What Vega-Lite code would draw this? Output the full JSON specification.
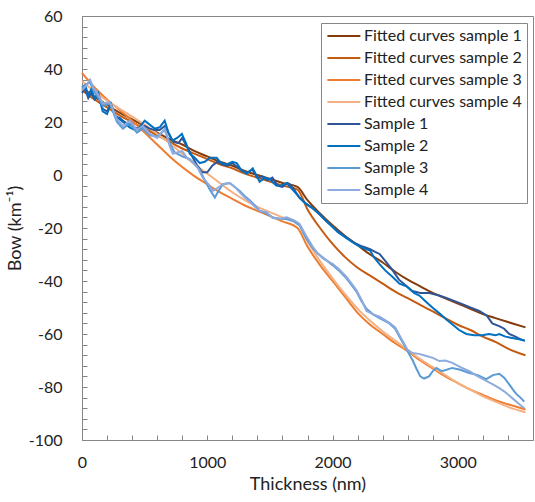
{
  "$schema": "https://vega.github.io/schema/vega-lite/v6.json",
  "width": 451,
  "height": 424,
  "autosize": {"type": "none"},
  "padding": {"left": 82, "top": 16, "right": 2, "bottom": 62},
  "background": "white",
  "config": {
    "font": "Lato",
    "view": {"stroke": "#868686", "strokeWidth": 1},
    "axis": {
      "grid": false,
      "domainColor": "#868686",
      "tickColor": "#868686",
      "tickSize": -5,
      "labelFont": "Lato",
      "labelFontSize": 16,
      "labelColor": "#222222",
      "titleFont": "Lato",
      "titleFontSize": 18,
      "titleFontWeight": "normal",
      "titleColor": "#222222"
    }
  },
  "datasets": {
    "fitted": [
      {"s": "Fitted curves sample 1", "x": 0, "y": 33}, {"s": "Fitted curves sample 1", "x": 100, "y": 29.5}, {"s": "Fitted curves sample 1", "x": 200, "y": 26.5}, {"s": "Fitted curves sample 1", "x": 300, "y": 23.5}, {"s": "Fitted curves sample 1", "x": 400, "y": 21}, {"s": "Fitted curves sample 1", "x": 500, "y": 18.5}, {"s": "Fitted curves sample 1", "x": 600, "y": 16}, {"s": "Fitted curves sample 1", "x": 700, "y": 13.5}, {"s": "Fitted curves sample 1", "x": 800, "y": 11.5}, {"s": "Fitted curves sample 1", "x": 900, "y": 9}, {"s": "Fitted curves sample 1", "x": 1000, "y": 7}, {"s": "Fitted curves sample 1", "x": 1100, "y": 5}, {"s": "Fitted curves sample 1", "x": 1200, "y": 3.5}, {"s": "Fitted curves sample 1", "x": 1300, "y": 1.5}, {"s": "Fitted curves sample 1", "x": 1400, "y": 0}, {"s": "Fitted curves sample 1", "x": 1500, "y": -1.5}, {"s": "Fitted curves sample 1", "x": 1600, "y": -3}, {"s": "Fitted curves sample 1", "x": 1720, "y": -4.5}, {"s": "Fitted curves sample 1", "x": 1800, "y": -9.5}, {"s": "Fitted curves sample 1", "x": 1900, "y": -14.5}, {"s": "Fitted curves sample 1", "x": 2000, "y": -19}, {"s": "Fitted curves sample 1", "x": 2100, "y": -23}, {"s": "Fitted curves sample 1", "x": 2200, "y": -26.5}, {"s": "Fitted curves sample 1", "x": 2300, "y": -30}, {"s": "Fitted curves sample 1", "x": 2400, "y": -33}, {"s": "Fitted curves sample 1", "x": 2500, "y": -36.5}, {"s": "Fitted curves sample 1", "x": 2600, "y": -39.5}, {"s": "Fitted curves sample 1", "x": 2700, "y": -42}, {"s": "Fitted curves sample 1", "x": 2800, "y": -44.5}, {"s": "Fitted curves sample 1", "x": 2900, "y": -46.5}, {"s": "Fitted curves sample 1", "x": 3000, "y": -48.5}, {"s": "Fitted curves sample 1", "x": 3100, "y": -50.5}, {"s": "Fitted curves sample 1", "x": 3200, "y": -52.5}, {"s": "Fitted curves sample 1", "x": 3300, "y": -54}, {"s": "Fitted curves sample 1", "x": 3400, "y": -55.5}, {"s": "Fitted curves sample 1", "x": 3540, "y": -57.5},
      {"s": "Fitted curves sample 2", "x": 0, "y": 32}, {"s": "Fitted curves sample 2", "x": 100, "y": 28.5}, {"s": "Fitted curves sample 2", "x": 200, "y": 25.5}, {"s": "Fitted curves sample 2", "x": 300, "y": 22.5}, {"s": "Fitted curves sample 2", "x": 400, "y": 20}, {"s": "Fitted curves sample 2", "x": 500, "y": 17.5}, {"s": "Fitted curves sample 2", "x": 600, "y": 15}, {"s": "Fitted curves sample 2", "x": 700, "y": 12.5}, {"s": "Fitted curves sample 2", "x": 800, "y": 10}, {"s": "Fitted curves sample 2", "x": 900, "y": 8}, {"s": "Fitted curves sample 2", "x": 1000, "y": 6}, {"s": "Fitted curves sample 2", "x": 1100, "y": 4}, {"s": "Fitted curves sample 2", "x": 1200, "y": 2.5}, {"s": "Fitted curves sample 2", "x": 1300, "y": 0.5}, {"s": "Fitted curves sample 2", "x": 1400, "y": -1}, {"s": "Fitted curves sample 2", "x": 1500, "y": -2.5}, {"s": "Fitted curves sample 2", "x": 1600, "y": -4}, {"s": "Fitted curves sample 2", "x": 1720, "y": -5.5}, {"s": "Fitted curves sample 2", "x": 1800, "y": -13}, {"s": "Fitted curves sample 2", "x": 1900, "y": -20}, {"s": "Fitted curves sample 2", "x": 2000, "y": -26}, {"s": "Fitted curves sample 2", "x": 2100, "y": -31}, {"s": "Fitted curves sample 2", "x": 2200, "y": -35}, {"s": "Fitted curves sample 2", "x": 2300, "y": -38}, {"s": "Fitted curves sample 2", "x": 2400, "y": -41}, {"s": "Fitted curves sample 2", "x": 2500, "y": -44}, {"s": "Fitted curves sample 2", "x": 2600, "y": -46.5}, {"s": "Fitted curves sample 2", "x": 2700, "y": -49}, {"s": "Fitted curves sample 2", "x": 2800, "y": -51.5}, {"s": "Fitted curves sample 2", "x": 2900, "y": -54}, {"s": "Fitted curves sample 2", "x": 3000, "y": -56.5}, {"s": "Fitted curves sample 2", "x": 3100, "y": -58.5}, {"s": "Fitted curves sample 2", "x": 3200, "y": -61}, {"s": "Fitted curves sample 2", "x": 3300, "y": -63}, {"s": "Fitted curves sample 2", "x": 3400, "y": -65.5}, {"s": "Fitted curves sample 2", "x": 3540, "y": -68},
      {"s": "Fitted curves sample 3", "x": 0, "y": 38.5}, {"s": "Fitted curves sample 3", "x": 100, "y": 33}, {"s": "Fitted curves sample 3", "x": 200, "y": 28.5}, {"s": "Fitted curves sample 3", "x": 300, "y": 24.5}, {"s": "Fitted curves sample 3", "x": 400, "y": 20.5}, {"s": "Fitted curves sample 3", "x": 500, "y": 16}, {"s": "Fitted curves sample 3", "x": 600, "y": 11.5}, {"s": "Fitted curves sample 3", "x": 700, "y": 7}, {"s": "Fitted curves sample 3", "x": 800, "y": 3}, {"s": "Fitted curves sample 3", "x": 900, "y": -0.5}, {"s": "Fitted curves sample 3", "x": 1000, "y": -3.5}, {"s": "Fitted curves sample 3", "x": 1100, "y": -6.5}, {"s": "Fitted curves sample 3", "x": 1200, "y": -9}, {"s": "Fitted curves sample 3", "x": 1300, "y": -11.5}, {"s": "Fitted curves sample 3", "x": 1400, "y": -13.5}, {"s": "Fitted curves sample 3", "x": 1500, "y": -15.5}, {"s": "Fitted curves sample 3", "x": 1600, "y": -17.5}, {"s": "Fitted curves sample 3", "x": 1720, "y": -20}, {"s": "Fitted curves sample 3", "x": 1800, "y": -27}, {"s": "Fitted curves sample 3", "x": 1900, "y": -34}, {"s": "Fitted curves sample 3", "x": 2000, "y": -40}, {"s": "Fitted curves sample 3", "x": 2100, "y": -46}, {"s": "Fitted curves sample 3", "x": 2200, "y": -52}, {"s": "Fitted curves sample 3", "x": 2300, "y": -56.5}, {"s": "Fitted curves sample 3", "x": 2400, "y": -60}, {"s": "Fitted curves sample 3", "x": 2500, "y": -63.5}, {"s": "Fitted curves sample 3", "x": 2600, "y": -66.5}, {"s": "Fitted curves sample 3", "x": 2700, "y": -70}, {"s": "Fitted curves sample 3", "x": 2800, "y": -73}, {"s": "Fitted curves sample 3", "x": 2900, "y": -76}, {"s": "Fitted curves sample 3", "x": 3000, "y": -78.5}, {"s": "Fitted curves sample 3", "x": 3100, "y": -81}, {"s": "Fitted curves sample 3", "x": 3200, "y": -83}, {"s": "Fitted curves sample 3", "x": 3300, "y": -85}, {"s": "Fitted curves sample 3", "x": 3400, "y": -86.5}, {"s": "Fitted curves sample 3", "x": 3540, "y": -88.5},
      {"s": "Fitted curves sample 4", "x": 0, "y": 35.5}, {"s": "Fitted curves sample 4", "x": 100, "y": 31.5}, {"s": "Fitted curves sample 4", "x": 200, "y": 28}, {"s": "Fitted curves sample 4", "x": 300, "y": 25}, {"s": "Fitted curves sample 4", "x": 400, "y": 22}, {"s": "Fitted curves sample 4", "x": 500, "y": 19}, {"s": "Fitted curves sample 4", "x": 600, "y": 15.5}, {"s": "Fitted curves sample 4", "x": 700, "y": 12}, {"s": "Fitted curves sample 4", "x": 800, "y": 8}, {"s": "Fitted curves sample 4", "x": 900, "y": 4}, {"s": "Fitted curves sample 4", "x": 1000, "y": 0.5}, {"s": "Fitted curves sample 4", "x": 1100, "y": -3}, {"s": "Fitted curves sample 4", "x": 1200, "y": -6.5}, {"s": "Fitted curves sample 4", "x": 1300, "y": -9.5}, {"s": "Fitted curves sample 4", "x": 1400, "y": -12}, {"s": "Fitted curves sample 4", "x": 1500, "y": -14}, {"s": "Fitted curves sample 4", "x": 1600, "y": -16}, {"s": "Fitted curves sample 4", "x": 1720, "y": -18}, {"s": "Fitted curves sample 4", "x": 1800, "y": -25}, {"s": "Fitted curves sample 4", "x": 1900, "y": -32.5}, {"s": "Fitted curves sample 4", "x": 2000, "y": -39}, {"s": "Fitted curves sample 4", "x": 2100, "y": -45}, {"s": "Fitted curves sample 4", "x": 2200, "y": -50.5}, {"s": "Fitted curves sample 4", "x": 2300, "y": -55}, {"s": "Fitted curves sample 4", "x": 2400, "y": -59}, {"s": "Fitted curves sample 4", "x": 2500, "y": -62.5}, {"s": "Fitted curves sample 4", "x": 2600, "y": -66}, {"s": "Fitted curves sample 4", "x": 2700, "y": -69.5}, {"s": "Fitted curves sample 4", "x": 2800, "y": -72.5}, {"s": "Fitted curves sample 4", "x": 2900, "y": -75.5}, {"s": "Fitted curves sample 4", "x": 3000, "y": -78.5}, {"s": "Fitted curves sample 4", "x": 3100, "y": -81}, {"s": "Fitted curves sample 4", "x": 3200, "y": -83.5}, {"s": "Fitted curves sample 4", "x": 3300, "y": -85.5}, {"s": "Fitted curves sample 4", "x": 3400, "y": -87.5}, {"s": "Fitted curves sample 4", "x": 3540, "y": -89.5}
    ],
    "samples": [
      {"s": "Sample 1", "x": 0, "y": 31}, {"s": "Sample 1", "x": 25, "y": 32.5}, {"s": "Sample 1", "x": 50, "y": 29}, {"s": "Sample 1", "x": 75, "y": 31}, {"s": "Sample 1", "x": 100, "y": 28.5}, {"s": "Sample 1", "x": 130, "y": 30}, {"s": "Sample 1", "x": 165, "y": 25}, {"s": "Sample 1", "x": 200, "y": 24}, {"s": "Sample 1", "x": 230, "y": 26.5}, {"s": "Sample 1", "x": 265, "y": 22}, {"s": "Sample 1", "x": 300, "y": 21.5}, {"s": "Sample 1", "x": 340, "y": 20}, {"s": "Sample 1", "x": 380, "y": 19}, {"s": "Sample 1", "x": 420, "y": 18}, {"s": "Sample 1", "x": 460, "y": 17}, {"s": "Sample 1", "x": 500, "y": 18.5}, {"s": "Sample 1", "x": 540, "y": 17.5}, {"s": "Sample 1", "x": 580, "y": 17}, {"s": "Sample 1", "x": 620, "y": 17}, {"s": "Sample 1", "x": 660, "y": 18.5}, {"s": "Sample 1", "x": 700, "y": 15}, {"s": "Sample 1", "x": 730, "y": 12.5}, {"s": "Sample 1", "x": 770, "y": 12}, {"s": "Sample 1", "x": 800, "y": 14}, {"s": "Sample 1", "x": 840, "y": 10.5}, {"s": "Sample 1", "x": 880, "y": 7}, {"s": "Sample 1", "x": 920, "y": 3.5}, {"s": "Sample 1", "x": 960, "y": 1}, {"s": "Sample 1", "x": 1000, "y": 1}, {"s": "Sample 1", "x": 1040, "y": 3.5}, {"s": "Sample 1", "x": 1080, "y": 5}, {"s": "Sample 1", "x": 1120, "y": 4}, {"s": "Sample 1", "x": 1160, "y": 3.5}, {"s": "Sample 1", "x": 1200, "y": 4.5}, {"s": "Sample 1", "x": 1240, "y": 3}, {"s": "Sample 1", "x": 1280, "y": 1.5}, {"s": "Sample 1", "x": 1320, "y": 1}, {"s": "Sample 1", "x": 1360, "y": 2}, {"s": "Sample 1", "x": 1400, "y": -1}, {"s": "Sample 1", "x": 1440, "y": -0.5}, {"s": "Sample 1", "x": 1480, "y": -2}, {"s": "Sample 1", "x": 1520, "y": -1}, {"s": "Sample 1", "x": 1560, "y": -4}, {"s": "Sample 1", "x": 1600, "y": -4.5}, {"s": "Sample 1", "x": 1640, "y": -3}, {"s": "Sample 1", "x": 1660, "y": -3.5}, {"s": "Sample 1", "x": 1700, "y": -6}, {"s": "Sample 1", "x": 1737, "y": -8.7}, {"s": "Sample 1", "x": 1780, "y": -10.5}, {"s": "Sample 1", "x": 1840, "y": -12.5}, {"s": "Sample 1", "x": 1900, "y": -15}, {"s": "Sample 1", "x": 1950, "y": -17.5}, {"s": "Sample 1", "x": 2000, "y": -19.5}, {"s": "Sample 1", "x": 2050, "y": -21.5}, {"s": "Sample 1", "x": 2110, "y": -23.5}, {"s": "Sample 1", "x": 2170, "y": -25.5}, {"s": "Sample 1", "x": 2240, "y": -27}, {"s": "Sample 1", "x": 2300, "y": -28}, {"s": "Sample 1", "x": 2340, "y": -29}, {"s": "Sample 1", "x": 2375, "y": -29.8}, {"s": "Sample 1", "x": 2430, "y": -33}, {"s": "Sample 1", "x": 2480, "y": -36}, {"s": "Sample 1", "x": 2530, "y": -39.5}, {"s": "Sample 1", "x": 2580, "y": -41.5}, {"s": "Sample 1", "x": 2637, "y": -43.8}, {"s": "Sample 1", "x": 2700, "y": -44.5}, {"s": "Sample 1", "x": 2773, "y": -44.5}, {"s": "Sample 1", "x": 2850, "y": -45.5}, {"s": "Sample 1", "x": 2908, "y": -46.4}, {"s": "Sample 1", "x": 2970, "y": -47.5}, {"s": "Sample 1", "x": 3036, "y": -48.7}, {"s": "Sample 1", "x": 3100, "y": -50}, {"s": "Sample 1", "x": 3171, "y": -51.3}, {"s": "Sample 1", "x": 3230, "y": -53}, {"s": "Sample 1", "x": 3275, "y": -56}, {"s": "Sample 1", "x": 3330, "y": -57}, {"s": "Sample 1", "x": 3370, "y": -58}, {"s": "Sample 1", "x": 3410, "y": -60}, {"s": "Sample 1", "x": 3460, "y": -61}, {"s": "Sample 1", "x": 3500, "y": -62}, {"s": "Sample 1", "x": 3535, "y": -62.6},
      {"s": "Sample 2", "x": 0, "y": 33}, {"s": "Sample 2", "x": 25, "y": 34}, {"s": "Sample 2", "x": 50, "y": 30}, {"s": "Sample 2", "x": 75, "y": 32.5}, {"s": "Sample 2", "x": 100, "y": 29}, {"s": "Sample 2", "x": 130, "y": 31}, {"s": "Sample 2", "x": 165, "y": 24}, {"s": "Sample 2", "x": 200, "y": 23}, {"s": "Sample 2", "x": 230, "y": 27}, {"s": "Sample 2", "x": 265, "y": 22.5}, {"s": "Sample 2", "x": 300, "y": 21}, {"s": "Sample 2", "x": 340, "y": 19.5}, {"s": "Sample 2", "x": 380, "y": 18}, {"s": "Sample 2", "x": 420, "y": 17}, {"s": "Sample 2", "x": 460, "y": 18}, {"s": "Sample 2", "x": 500, "y": 20.5}, {"s": "Sample 2", "x": 540, "y": 19}, {"s": "Sample 2", "x": 580, "y": 17.5}, {"s": "Sample 2", "x": 620, "y": 18}, {"s": "Sample 2", "x": 660, "y": 20.5}, {"s": "Sample 2", "x": 690, "y": 16}, {"s": "Sample 2", "x": 720, "y": 13}, {"s": "Sample 2", "x": 760, "y": 14}, {"s": "Sample 2", "x": 797, "y": 15.5}, {"s": "Sample 2", "x": 830, "y": 12}, {"s": "Sample 2", "x": 861, "y": 8}, {"s": "Sample 2", "x": 900, "y": 6.5}, {"s": "Sample 2", "x": 940, "y": 4.5}, {"s": "Sample 2", "x": 980, "y": 5}, {"s": "Sample 2", "x": 1020, "y": 6.5}, {"s": "Sample 2", "x": 1075, "y": 6.5}, {"s": "Sample 2", "x": 1110, "y": 4.5}, {"s": "Sample 2", "x": 1155, "y": 4}, {"s": "Sample 2", "x": 1200, "y": 5}, {"s": "Sample 2", "x": 1235, "y": 4.5}, {"s": "Sample 2", "x": 1270, "y": 2}, {"s": "Sample 2", "x": 1315, "y": 0.5}, {"s": "Sample 2", "x": 1363, "y": 2.5}, {"s": "Sample 2", "x": 1418, "y": -2.5}, {"s": "Sample 2", "x": 1460, "y": -1}, {"s": "Sample 2", "x": 1498, "y": -1.5}, {"s": "Sample 2", "x": 1550, "y": -4}, {"s": "Sample 2", "x": 1590, "y": -4}, {"s": "Sample 2", "x": 1633, "y": -3}, {"s": "Sample 2", "x": 1660, "y": -4.5}, {"s": "Sample 2", "x": 1690, "y": -6}, {"s": "Sample 2", "x": 1737, "y": -8.5}, {"s": "Sample 2", "x": 1790, "y": -11}, {"s": "Sample 2", "x": 1841, "y": -12.5}, {"s": "Sample 2", "x": 1900, "y": -15}, {"s": "Sample 2", "x": 1976, "y": -18.5}, {"s": "Sample 2", "x": 2040, "y": -21.5}, {"s": "Sample 2", "x": 2111, "y": -23.8}, {"s": "Sample 2", "x": 2180, "y": -26}, {"s": "Sample 2", "x": 2239, "y": -27.5}, {"s": "Sample 2", "x": 2300, "y": -28.5}, {"s": "Sample 2", "x": 2330, "y": -31}, {"s": "Sample 2", "x": 2375, "y": -33.6}, {"s": "Sample 2", "x": 2420, "y": -36}, {"s": "Sample 2", "x": 2480, "y": -38.5}, {"s": "Sample 2", "x": 2534, "y": -41}, {"s": "Sample 2", "x": 2590, "y": -42}, {"s": "Sample 2", "x": 2650, "y": -44.5}, {"s": "Sample 2", "x": 2693, "y": -45.5}, {"s": "Sample 2", "x": 2750, "y": -48}, {"s": "Sample 2", "x": 2797, "y": -50}, {"s": "Sample 2", "x": 2860, "y": -52.5}, {"s": "Sample 2", "x": 2908, "y": -54.5}, {"s": "Sample 2", "x": 2960, "y": -56.5}, {"s": "Sample 2", "x": 3010, "y": -58.5}, {"s": "Sample 2", "x": 3068, "y": -60}, {"s": "Sample 2", "x": 3130, "y": -60.5}, {"s": "Sample 2", "x": 3195, "y": -60.5}, {"s": "Sample 2", "x": 3250, "y": -60}, {"s": "Sample 2", "x": 3300, "y": -60.5}, {"s": "Sample 2", "x": 3331, "y": -60}, {"s": "Sample 2", "x": 3380, "y": -61}, {"s": "Sample 2", "x": 3434, "y": -61.5}, {"s": "Sample 2", "x": 3490, "y": -62}, {"s": "Sample 2", "x": 3535, "y": -62.5},
      {"s": "Sample 3", "x": 0, "y": 33}, {"s": "Sample 3", "x": 30, "y": 34}, {"s": "Sample 3", "x": 64, "y": 35}, {"s": "Sample 3", "x": 90, "y": 32}, {"s": "Sample 3", "x": 120, "y": 30}, {"s": "Sample 3", "x": 167, "y": 26}, {"s": "Sample 3", "x": 223, "y": 27}, {"s": "Sample 3", "x": 279, "y": 20}, {"s": "Sample 3", "x": 327, "y": 17.5}, {"s": "Sample 3", "x": 382, "y": 19.5}, {"s": "Sample 3", "x": 438, "y": 16}, {"s": "Sample 3", "x": 486, "y": 17.5}, {"s": "Sample 3", "x": 542, "y": 15}, {"s": "Sample 3", "x": 600, "y": 14.5}, {"s": "Sample 3", "x": 661, "y": 17}, {"s": "Sample 3", "x": 700, "y": 12}, {"s": "Sample 3", "x": 740, "y": 8.5}, {"s": "Sample 3", "x": 800, "y": 7}, {"s": "Sample 3", "x": 860, "y": 6}, {"s": "Sample 3", "x": 900, "y": 4}, {"s": "Sample 3", "x": 940, "y": 2}, {"s": "Sample 3", "x": 980, "y": -2}, {"s": "Sample 3", "x": 1020, "y": -5.5}, {"s": "Sample 3", "x": 1060, "y": -8.5}, {"s": "Sample 3", "x": 1090, "y": -6}, {"s": "Sample 3", "x": 1124, "y": -3.5}, {"s": "Sample 3", "x": 1179, "y": -3}, {"s": "Sample 3", "x": 1220, "y": -4.5}, {"s": "Sample 3", "x": 1259, "y": -6}, {"s": "Sample 3", "x": 1300, "y": -8}, {"s": "Sample 3", "x": 1339, "y": -9.5}, {"s": "Sample 3", "x": 1380, "y": -11.5}, {"s": "Sample 3", "x": 1418, "y": -13.5}, {"s": "Sample 3", "x": 1470, "y": -14.5}, {"s": "Sample 3", "x": 1522, "y": -16}, {"s": "Sample 3", "x": 1580, "y": -16.5}, {"s": "Sample 3", "x": 1633, "y": -16.6}, {"s": "Sample 3", "x": 1690, "y": -17.5}, {"s": "Sample 3", "x": 1737, "y": -19}, {"s": "Sample 3", "x": 1790, "y": -24}, {"s": "Sample 3", "x": 1841, "y": -27.5}, {"s": "Sample 3", "x": 1880, "y": -29.5}, {"s": "Sample 3", "x": 1920, "y": -31.3}, {"s": "Sample 3", "x": 1960, "y": -32.5}, {"s": "Sample 3", "x": 2000, "y": -34}, {"s": "Sample 3", "x": 2050, "y": -36}, {"s": "Sample 3", "x": 2111, "y": -39}, {"s": "Sample 3", "x": 2160, "y": -42}, {"s": "Sample 3", "x": 2191, "y": -44}, {"s": "Sample 3", "x": 2230, "y": -47.5}, {"s": "Sample 3", "x": 2271, "y": -50.5}, {"s": "Sample 3", "x": 2320, "y": -52.5}, {"s": "Sample 3", "x": 2375, "y": -54}, {"s": "Sample 3", "x": 2454, "y": -56}, {"s": "Sample 3", "x": 2500, "y": -58}, {"s": "Sample 3", "x": 2534, "y": -61}, {"s": "Sample 3", "x": 2570, "y": -64}, {"s": "Sample 3", "x": 2598, "y": -66.4}, {"s": "Sample 3", "x": 2640, "y": -70}, {"s": "Sample 3", "x": 2669, "y": -73}, {"s": "Sample 3", "x": 2700, "y": -76}, {"s": "Sample 3", "x": 2730, "y": -76.8}, {"s": "Sample 3", "x": 2770, "y": -76}, {"s": "Sample 3", "x": 2800, "y": -74}, {"s": "Sample 3", "x": 2829, "y": -72.8}, {"s": "Sample 3", "x": 2870, "y": -74}, {"s": "Sample 3", "x": 2910, "y": -73.5}, {"s": "Sample 3", "x": 2956, "y": -72.8}, {"s": "Sample 3", "x": 3020, "y": -73.5}, {"s": "Sample 3", "x": 3092, "y": -74.7}, {"s": "Sample 3", "x": 3160, "y": -75.5}, {"s": "Sample 3", "x": 3227, "y": -77}, {"s": "Sample 3", "x": 3280, "y": -75.5}, {"s": "Sample 3", "x": 3331, "y": -75}, {"s": "Sample 3", "x": 3370, "y": -76.5}, {"s": "Sample 3", "x": 3410, "y": -79}, {"s": "Sample 3", "x": 3440, "y": -81}, {"s": "Sample 3", "x": 3466, "y": -82.6}, {"s": "Sample 3", "x": 3500, "y": -84}, {"s": "Sample 3", "x": 3530, "y": -85.5},
      {"s": "Sample 4", "x": 0, "y": 32}, {"s": "Sample 4", "x": 30, "y": 33.5}, {"s": "Sample 4", "x": 64, "y": 36}, {"s": "Sample 4", "x": 90, "y": 33}, {"s": "Sample 4", "x": 120, "y": 31}, {"s": "Sample 4", "x": 167, "y": 27}, {"s": "Sample 4", "x": 223, "y": 27.5}, {"s": "Sample 4", "x": 279, "y": 21}, {"s": "Sample 4", "x": 327, "y": 18.5}, {"s": "Sample 4", "x": 382, "y": 20.5}, {"s": "Sample 4", "x": 438, "y": 17}, {"s": "Sample 4", "x": 486, "y": 18.5}, {"s": "Sample 4", "x": 542, "y": 15.5}, {"s": "Sample 4", "x": 600, "y": 14}, {"s": "Sample 4", "x": 661, "y": 17.5}, {"s": "Sample 4", "x": 700, "y": 11}, {"s": "Sample 4", "x": 725, "y": 8}, {"s": "Sample 4", "x": 760, "y": 8.5}, {"s": "Sample 4", "x": 800, "y": 9}, {"s": "Sample 4", "x": 837, "y": 6.5}, {"s": "Sample 4", "x": 884, "y": 5}, {"s": "Sample 4", "x": 920, "y": 3}, {"s": "Sample 4", "x": 964, "y": -1}, {"s": "Sample 4", "x": 1010, "y": -3.5}, {"s": "Sample 4", "x": 1044, "y": -6}, {"s": "Sample 4", "x": 1080, "y": -5}, {"s": "Sample 4", "x": 1124, "y": -3.5}, {"s": "Sample 4", "x": 1179, "y": -3}, {"s": "Sample 4", "x": 1220, "y": -4.5}, {"s": "Sample 4", "x": 1259, "y": -6.5}, {"s": "Sample 4", "x": 1300, "y": -8.5}, {"s": "Sample 4", "x": 1339, "y": -10}, {"s": "Sample 4", "x": 1380, "y": -12}, {"s": "Sample 4", "x": 1418, "y": -13.5}, {"s": "Sample 4", "x": 1474, "y": -14}, {"s": "Sample 4", "x": 1522, "y": -16.2}, {"s": "Sample 4", "x": 1580, "y": -16.5}, {"s": "Sample 4", "x": 1633, "y": -16}, {"s": "Sample 4", "x": 1690, "y": -17}, {"s": "Sample 4", "x": 1737, "y": -18.5}, {"s": "Sample 4", "x": 1790, "y": -23}, {"s": "Sample 4", "x": 1841, "y": -27}, {"s": "Sample 4", "x": 1880, "y": -29.5}, {"s": "Sample 4", "x": 1920, "y": -31}, {"s": "Sample 4", "x": 1960, "y": -32.5}, {"s": "Sample 4", "x": 2000, "y": -33.5}, {"s": "Sample 4", "x": 2050, "y": -35.5}, {"s": "Sample 4", "x": 2111, "y": -38.5}, {"s": "Sample 4", "x": 2160, "y": -41.5}, {"s": "Sample 4", "x": 2191, "y": -43.5}, {"s": "Sample 4", "x": 2230, "y": -47}, {"s": "Sample 4", "x": 2271, "y": -51.3}, {"s": "Sample 4", "x": 2320, "y": -52.5}, {"s": "Sample 4", "x": 2375, "y": -53.5}, {"s": "Sample 4", "x": 2454, "y": -55.8}, {"s": "Sample 4", "x": 2500, "y": -57.5}, {"s": "Sample 4", "x": 2534, "y": -60.5}, {"s": "Sample 4", "x": 2570, "y": -63.5}, {"s": "Sample 4", "x": 2598, "y": -66}, {"s": "Sample 4", "x": 2637, "y": -67.2}, {"s": "Sample 4", "x": 2690, "y": -67.5}, {"s": "Sample 4", "x": 2749, "y": -68.3}, {"s": "Sample 4", "x": 2800, "y": -69}, {"s": "Sample 4", "x": 2853, "y": -70.2}, {"s": "Sample 4", "x": 2900, "y": -70}, {"s": "Sample 4", "x": 2956, "y": -70.9}, {"s": "Sample 4", "x": 3020, "y": -72.5}, {"s": "Sample 4", "x": 3092, "y": -74}, {"s": "Sample 4", "x": 3160, "y": -76}, {"s": "Sample 4", "x": 3227, "y": -77.7}, {"s": "Sample 4", "x": 3280, "y": -79}, {"s": "Sample 4", "x": 3331, "y": -80.4}, {"s": "Sample 4", "x": 3380, "y": -82}, {"s": "Sample 4", "x": 3434, "y": -84.2}, {"s": "Sample 4", "x": 3480, "y": -86}, {"s": "Sample 4", "x": 3530, "y": -88}
    ]
  },
  "encoding": {
    "x": {
      "field": "x",
      "type": "quantitative",
      "title": "Thickness (nm)",
      "scale": {"domain": [0, 3600], "nice": false},
      "axis": {
        "values": [0, 200, 400, 600, 800, 1000, 1200, 1400, 1600, 1800, 2000, 2200, 2400, 2600, 2800, 3000, 3200, 3400, 3600],
        "labelExpr": "datum.value % 1000 == 0 ? '' + datum.value : ''",
        "labelPadding": 19,
        "labelFlush": false,
        "titlePadding": 5
      }
    },
    "y": {
      "field": "y",
      "type": "quantitative",
      "title": "Bow (km⁻¹)",
      "scale": {"domain": [-100, 60], "nice": false},
      "axis": {
        "values": [-100, -96, -92, -88, -84, -80, -76, -72, -68, -64, -60, -56, -52, -48, -44, -40, -36, -32, -28, -24, -20, -16, -12, -8, -4, 0, 4, 8, 12, 16, 20, 24, 28, 32, 36, 40, 44, 48, 52, 56, 60],
        "labelExpr": "datum.value % 20 == 0 ? '' + datum.value : ''",
        "labelPadding": 25,
        "labelFlush": false,
        "titlePadding": 4
      }
    },
    "color": {
      "field": "s",
      "type": "nominal",
      "scale": {
        "domain": ["Fitted curves sample 1", "Fitted curves sample 2", "Fitted curves sample 3", "Fitted curves sample 4", "Sample 1", "Sample 2", "Sample 3", "Sample 4"],
        "range": ["#843C0C", "#C55A11", "#ED7D31", "#F4B183", "#2F5597", "#0070C0", "#5B9BD5", "#8FAADC"]
      },
      "legend": {
        "title": null,
        "orient": "none",
        "legendX": 239,
        "legendY": 7,
        "symbolType": "M-1,0H4",
        "symbolSize": 174,
        "symbolStrokeWidth": 2,
        "labelFont": "Lato",
        "labelFontSize": 16,
        "labelColor": "#222222",
        "labelOffset": 22,
        "labelLimit": 300,
        "rowPadding": 6,
        "padding": 5,
        "strokeColor": "#868686",
        "fillColor": "white"
      }
    }
  },
  "layer": [
    {
      "data": {"name": "fitted"},
      "mark": {"type": "line", "strokeWidth": 2, "interpolate": "monotone"}
    },
    {
      "data": {"name": "samples"},
      "mark": {"type": "line", "strokeWidth": 2}
    }
  ]
}
